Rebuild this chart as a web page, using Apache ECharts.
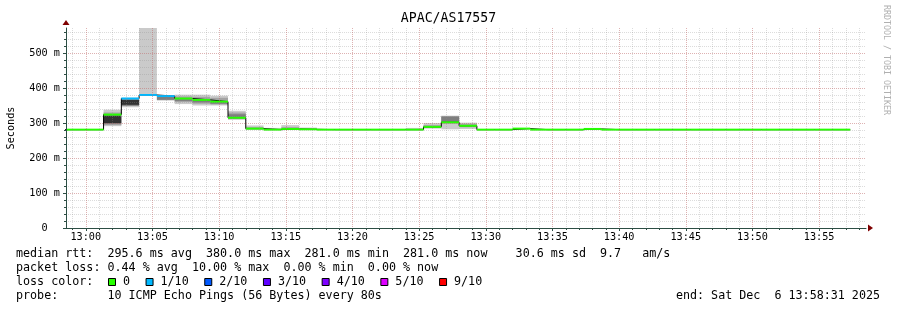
<!DOCTYPE html>
<html><head><meta charset="utf-8">
<script src="https://cdn.jsdelivr.net/npm/echarts@6/dist/echarts.min.js"></script>
<style>html,body{margin:0;padding:0;background:#fff}#c{width:897px;height:310px}</style>
</head><body><div id="c"></div>
<script>
// ---------- data ----------
const chartTitle = 'APAC/AS17557';
const yAxisTitle = 'Seconds';
const stepSeconds = 80;              // probe interval
const firstIntervalEnd = -80;        // seconds relative to 13:00:00 (12:58:40)
const axisStart = -89;               // 12:58:31
const axisEnd = 3511;                // 13:58:31
const timeLabels = ['13:00','13:05','13:10','13:15','13:20','13:25','13:30','13:35','13:40','13:45','13:50','13:55'];
const yLabels = [0,100,200,300,400,500];
const yMax = 571.43;
// median RTT (ms) per 80 s interval
const medianMs = [281,281,281,324,370,380,377,370,366,361,315,284,281,283,282,
                  281,281,281,281,281,281,289,302,292,281,281,284,281,281,281,
                  283,281,281,281,281,281,281,281,281,281,281,281,281,281,281];
// loss level index per interval (index into lossLabels)
const lossLevel = [0,0,0,0,1,1,1,0,0,0,0,0,0,0,0,
                   0,0,0,0,0,0,0,0,0,0,0,0,0,0,0,
                   0,0,0,0,0,0,0,0,0,0,0,0,0,0,0];
// smoke bands
const bandInterval = [3,3,3, 4,4,4, 5, 6,6, 7,7,7, 8,8,8, 9,9,9, 10,10,10, 11,11, 12, 13,13, 14, 20, 21,21, 22,22,22, 23,23];
const bandLow      = [291,294,299, 345,349,352, 379, 364,366, 354,360,363, 350,355,359, 350,353,355, 309,313,315, 281,282, 281, 281,282, 281, 281, 284,286, 282,298,301, 283,288];
const bandHigh     = [338,330,321, 372,368,366, 1000, 379,376, 381,376,368, 381,375,366, 378,372,361, 335,330,325, 293,288, 286, 294,288, 287, 286, 300,294, 321,320,318, 301,298];
const bandShade    = [0,1,4, 0,2,4, 0, 0,2, 0,1,2, 0,1,2, 0,1,2, 0,1,2, 0,1, 0, 0,1, 0, 0, 0,1, 0,1,2, 0,1];
const lossLabels = ['0','1/10','2/10','3/10','4/10','5/10','9/10'];
const lossColors = ['#26ff00','#00b8ff','#0059ff','#5e00ff','#7e00ff','#dd00ff','#ff0000'];
const smokeShades = ['#cacaca','#a4a4a4','#7e7e7e','#585858','#323232'];
const statLines = [
  'median rtt:  295.6 ms avg  380.0 ms max  281.0 ms min  281.0 ms now    30.6 ms sd  9.7   am/s',
  'packet loss: 0.44 % avg  10.00 % max  0.00 % min  0.00 % now'
];
const lossTitle = 'loss color:';
const probeLine = 'probe:       10 ICMP Echo Pings (56 Bytes) every 80s';
const endLine = 'end: Sat Dec  6 13:58:31 2025';
const watermark = 'RRDTOOL / TOBI OETIKER';

// ---------- build ----------
const MONO = 'DejaVu Sans Mono';
const CH = 7.05; // legend char advance
const GL = 66, GT = 28, GW = 800, GH = 200;
const iStart = j => firstIntervalEnd - stepSeconds + stepSeconds * j;
const iEnd = j => firstIntervalEnd + stepSeconds * j;
const toSec = l => { const p = l.split(':').map(Number); return (p[0]-13)*3600 + p[1]*60; };
const majorX = timeLabels.map(toSec);
const minorX = []; for (let s = Math.ceil(axisStart/60)*60; s <= axisEnd; s += 60) minorX.push(s);
const minorY = []; for (let v = 0; v <= yMax; v += 20) minorY.push(v);

const medianPts = [];
medianMs.forEach((m, j) => { medianPts.push([iStart(j), m], [iEnd(j), m]); });
const segData = medianMs.map((m, j) => [iStart(j), iEnd(j), m, lossLevel[j]]);
const smokeData = bandInterval.map((j, k) => [iStart(j), iEnd(j), bandLow[k], bandHigh[k], bandShade[k]]);

const AX = '#2c4d43';
const majorGrid = {show:true, lineStyle:{color:'rgba(228,90,90,0.32)', type:[1,1], width:1}};
const minorGrid = {show:true, lineStyle:{color:'rgba(140,140,140,0.30)', type:[1,1], width:1}};

const graphics = [];
graphics.push({type:'text', left:'center', top:12, style:{text:chartTitle, font:'13.2px "'+MONO+'"', fill:'#000'}});
graphics.push({type:'text', x:11, y:128, rotation:Math.PI/2, style:{text:yAxisTitle, font:'10.2px "'+MONO+'"', fill:'#000', align:'center', verticalAlign:'middle'}});
graphics.push({type:'text', x:886, y:60, rotation:-Math.PI/2, style:{text:watermark, font:'8.3px "'+MONO+'"', fill:'#b0b0b0', align:'center', verticalAlign:'middle'}});
statLines.forEach((t, i) => graphics.push({type:'text', x:16, y:254 + 14*i, style:{text:t, font:'11.7px "'+MONO+'"', fill:'#000', verticalAlign:'middle'}}));
graphics.push({type:'text', x:16, y:282, style:{text:lossTitle, font:'11.7px "'+MONO+'"', fill:'#000', verticalAlign:'middle'}});
let bx = 108;
lossLabels.forEach((l, i) => {
  graphics.push({type:'rect', shape:{x:bx+0.5, y:278.5, width:7, height:7}, style:{fill:lossColors[i], stroke:'#000', lineWidth:1}});
  graphics.push({type:'text', x:bx+15, y:282, style:{text:l, font:'11.7px "'+MONO+'"', fill:'#000', verticalAlign:'middle'}});
  bx = bx + 15 + l.length*CH + 15.5;
});
graphics.push({type:'text', x:16, y:296, style:{text:probeLine, font:'11.7px "'+MONO+'"', fill:'#000', verticalAlign:'middle'}});
graphics.push({type:'text', x:880, y:296, style:{text:endLine, font:'11.7px "'+MONO+'"', fill:'#000', align:'right', verticalAlign:'middle'}});

const chart = echarts.init(document.getElementById('c'), null, {renderer:'canvas'});
chart.setOption({
  animation:false,
  backgroundColor:'#ffffff',
  grid:{left:GL, top:GT, width:GW, height:GH, containLabel:false},
  xAxis:[
    {type:'value', min:axisStart, max:axisEnd, z:5,
     axisLine:{show:true, onZero:false, lineStyle:{color:AX, width:1}},
     axisTick:{show:true, customValues:majorX, length:3, lineStyle:{color:AX}},
     axisLabel:{show:true, customValues:majorX, margin:4, color:'#000', fontFamily:MONO, fontSize:10.2,
       formatter:v => timeLabels[majorX.indexOf(v)] || ''},
     splitLine:majorGrid},
    {type:'value', min:axisStart, max:axisEnd, z:4, position:'bottom',
     axisLine:{show:true, onZero:false, symbol:['none','triangle'], symbolSize:[7,5], symbolOffset:[0,4.5], lineStyle:{color:'#7f0000', width:0}},
     axisTick:{show:true, customValues:minorX, length:2, lineStyle:{color:AX}},
     axisLabel:{show:false},
     splitLine:minorGrid}
  ],
  yAxis:[
    {type:'value', min:0, max:yMax, z:5,
     axisLine:{show:true, onZero:false, lineStyle:{color:AX, width:1}},
     axisTick:{show:true, customValues:yLabels, length:3, lineStyle:{color:AX}},
     axisLabel:{show:true, customValues:yLabels, margin:6, color:'#000', fontFamily:MONO, fontSize:10.2,
       formatter:v => v === 0 ? '0\u00a0\u00a0' : v + ' m'},
     splitLine:majorGrid},
    {type:'value', min:0, max:yMax, z:4, position:'left',
     axisLine:{show:true, onZero:false, symbol:['none','triangle'], symbolSize:[7,5], symbolOffset:[0,5.5], lineStyle:{color:'#7f0000', width:0}},
     axisTick:{show:true, customValues:minorY, length:2, lineStyle:{color:AX}},
     axisLabel:{show:false},
     splitLine:minorGrid}
  ],
  series:[
    {type:'custom', name:'smoke', xAxisIndex:0, yAxisIndex:0, z:1, clip:true, silent:true,
     encode:{x:[0,1], y:[2,3]}, data:smokeData,
     renderItem:(params, api) => {
       const a = api.coord([api.value(0), api.value(3)]);
       const b = api.coord([api.value(1), api.value(2)]);
       const cs = params.coordSys;
       const r = echarts.graphic.clipRectByRect({x:a[0], y:a[1], width:b[0]-a[0], height:b[1]-a[1]},
                                                 {x:cs.x, y:cs.y, width:cs.width, height:cs.height});
       if (!r) return null;
       return {type:'rect', shape:r, style:{fill:smokeShades[api.value(4)]}};
     }},
    {type:'line', name:'median', xAxisIndex:0, yAxisIndex:0, z:2, data:medianPts, showSymbol:false, symbol:'none',
     clip:true, silent:true, lineStyle:{color:'#000', width:1}},
    {type:'custom', name:'loss', xAxisIndex:0, yAxisIndex:0, z:3, clip:true, silent:true,
     encode:{x:[0,1], y:2}, data:segData,
     renderItem:(params, api) => {
       const cs = params.coordSys;
       const a = api.coord([api.value(0), api.value(2)]);
       const b = api.coord([api.value(1), api.value(2)]);
       const x1 = Math.max(a[0], cs.x), x2 = Math.min(b[0], cs.x + cs.width);
       if (x2 <= x1) return null;
       return {type:'line', shape:{x1:x1, y1:a[1], x2:x2, y2:b[1]}, style:{stroke:lossColors[api.value(3)], lineWidth:2}};
     }}
  ],
  graphic:graphics
});
</script></body></html>
